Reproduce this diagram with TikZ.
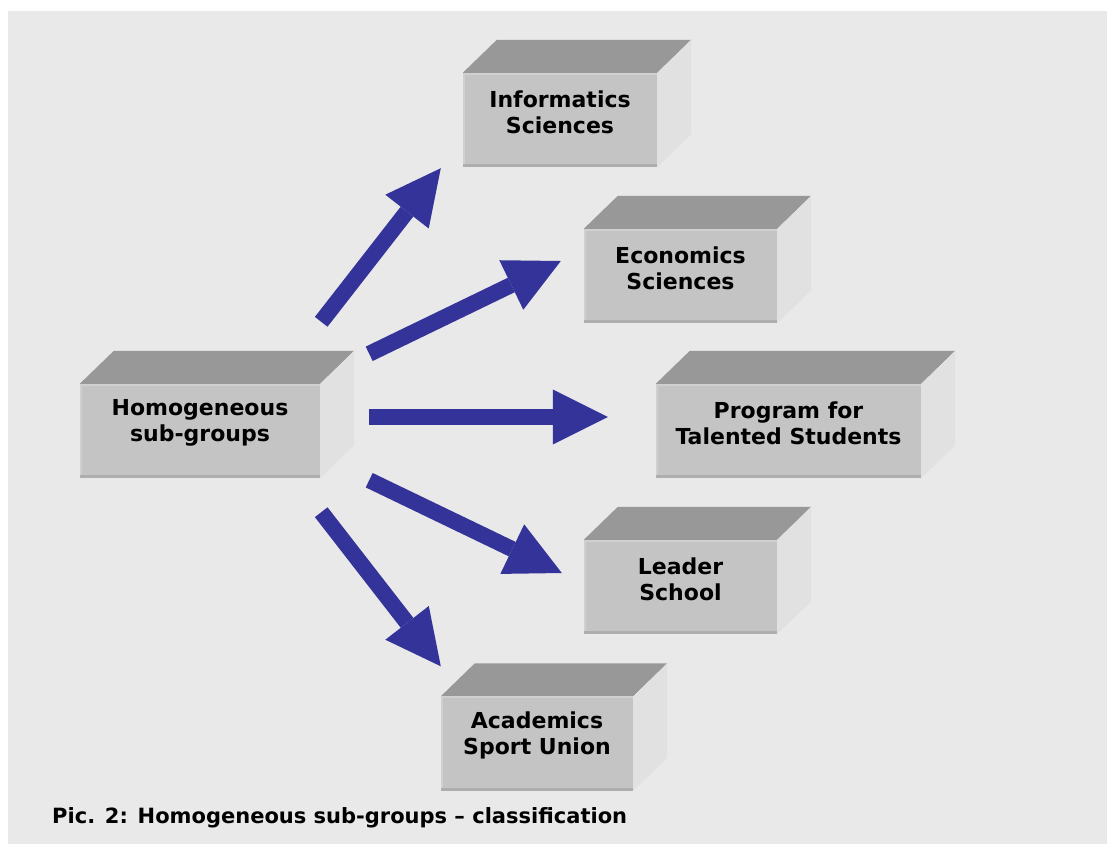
\documentclass[tikz,border=0pt]{standalone}
\usepackage{fontspec}
\setmainfont{DejaVu Sans}
\usetikzlibrary{arrows.meta}

\definecolor{bgcol}{HTML}{E9E9E9}
\definecolor{frontcol}{HTML}{C4C4C4}
\definecolor{topcol}{HTML}{989898}
\definecolor{sidecol}{HTML}{E1E1E1}
\definecolor{rimdark}{HTML}{AEAEAE}
\definecolor{rimlight}{HTML}{D0D0D0}
\definecolor{arrowcol}{HTML}{333399}

\tikzset{
  blockface/.style={fill=frontcol, inner sep=0pt, minimum height=94pt},
  boxlabel/.style={font=\fontsize{22}{26}\selectfont\bfseries, align=center, text=black},
  captiontext/.style={font=\fontsize{21}{26}\selectfont\bfseries, text=black, inner sep=0pt},
  topside/.style={fill=topcol},
  rightside/.style={fill=sidecol},
  bigarrow/.style={draw=arrowcol, line width=16pt,
    -{Triangle[length=55pt, width=55pt, line width=0pt]}},
}

\begin{document}
\begin{tikzpicture}[x=1pt, y=-1pt]
  % page and grey panel
  \fill[white] (0,0) rectangle (1107,844);
  \fill[bgcol] (8,11) rectangle (1107,844);
  \useasboundingbox (0,0) rectangle (1107,844);

  % front faces of the blocks
  \node[blockface, minimum width=240pt,
        label={[boxlabel, yshift=8pt]center:{Homogeneous\\sub-groups}}] (hom) at (200,431) {};
  \node[blockface, minimum width=194pt,
        label={[boxlabel, yshift=8pt]center:{Informatics\\Sciences}}] (inf) at (560,120) {};
  \node[blockface, minimum width=193pt,
        label={[boxlabel, yshift=8pt]center:{Economics\\Sciences}}] (eco) at (680.5,276) {};
  \node[blockface, minimum width=265pt,
        label={[boxlabel, yshift=8pt]center:{Program for\\Talented Students}}] (prg) at (788.5,431) {};
  \node[blockface, minimum width=193pt,
        label={[boxlabel, yshift=8pt]center:{Leader\\School}}] (lea) at (680.5,587) {};
  \node[blockface, minimum width=192pt,
        label={[boxlabel, yshift=8pt]center:{Academics\\Sport Union}}] (aca) at (537,743.5) {};

  % top and right faces, plus edge shading of the fronts
  \foreach \b in {hom,inf,eco,prg,lea,aca} {
    \fill[topside] (\b.north west) -- ++(34,-33)
      -- ([shift={(34,-33)}]\b.north east) -- (\b.north east) -- cycle;
    \fill[rightside] (\b.north east) -- ++(34,-33)
      -- ([shift={(34,-33)}]\b.south east) -- (\b.south east) -- cycle;
    \fill[rimdark] (\b.south west) rectangle ([yshift=3pt]\b.south east);
    \fill[rimlight] (\b.north west) rectangle ([yshift=-2pt]\b.north east);
    \fill[rimlight] (\b.north west) rectangle ([xshift=2pt, yshift=3pt]\b.south west);
  }

  % arrow end points around the source and target blocks
  \coordinate (a1s) at ([shift={(1,-62)}]hom.north east);
  \coordinate (a1e) at ([shift={(-22,1)}]inf.south west);
  \coordinate (a2s) at ([shift={(49,-30)}]hom.north east);
  \coordinate (a2e) at ([shift={(-23,-15)}]eco.west);
  \coordinate (a3s) at ([shift={(49,-14)}]hom.east);
  \coordinate (a3e) at ([shift={(-48,-14)}]prg.west);
  \coordinate (a4s) at ([shift={(49,2)}]hom.south east);
  \coordinate (a4e) at ([shift={(-22,-14)}]lea.west);
  \coordinate (a5s) at ([shift={(1,34)}]hom.south east);
  \coordinate (a5e) at ([shift={(0,-30)}]aca.north west);

  \draw[bigarrow] (a1s) -- (a1e);
  \draw[bigarrow] (a2s) -- (a2e);
  \draw[bigarrow] (a3s) -- (a3e);
  \draw[bigarrow] (a4s) -- (a4e);
  \draw[bigarrow] (a5s) -- (a5e);

  % caption
  \node[captiontext, anchor=base west] (cap) at (52,823)
    {Pic. 2: Homogeneous sub-groups – classification};
\end{tikzpicture}
\end{document}
